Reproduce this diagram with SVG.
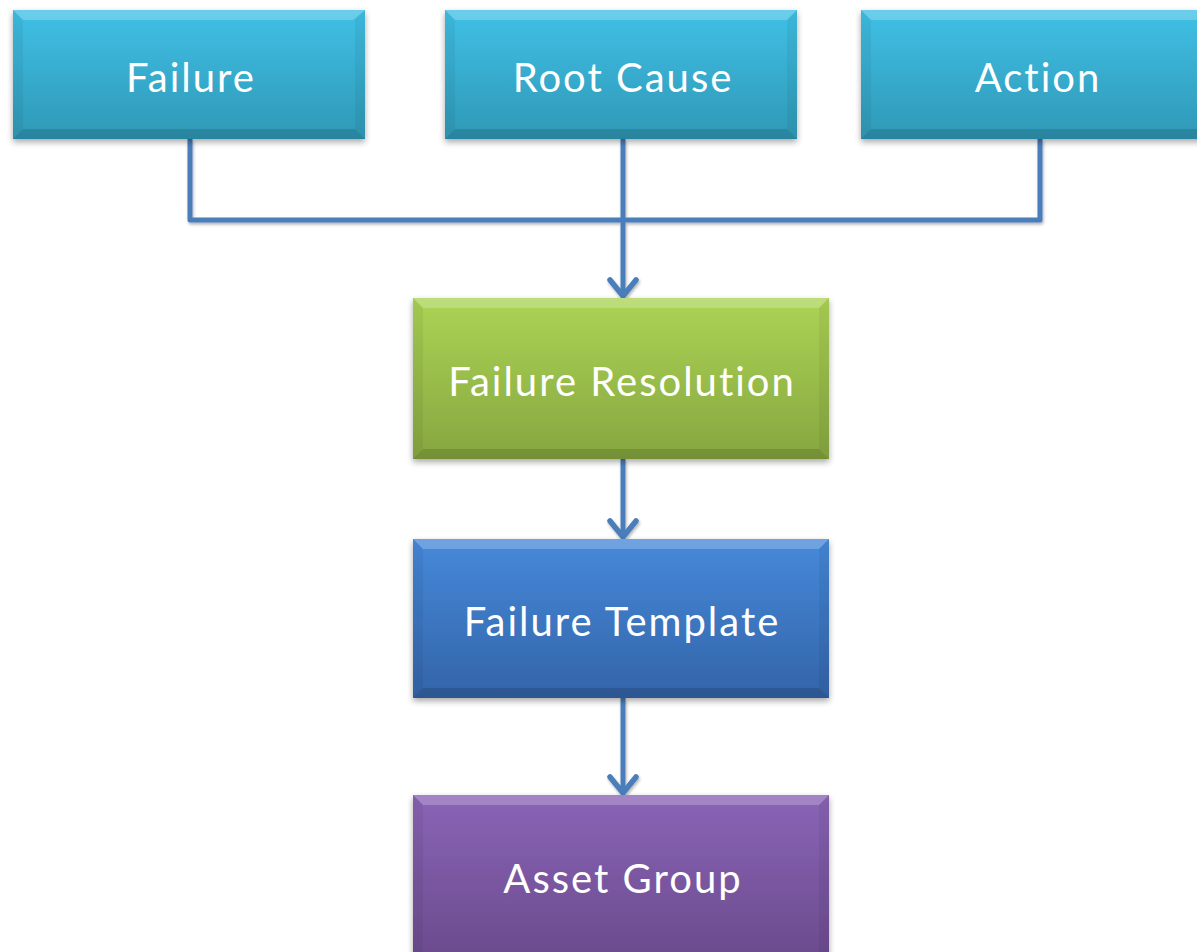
<svg xmlns="http://www.w3.org/2000/svg" width="1197" height="952" viewBox="0 0 1197 952">
<defs>
<linearGradient id="gCyan" x1="0" y1="0" x2="0" y2="1"><stop offset="0" stop-color="#40c0e6"/><stop offset="1" stop-color="#2f98b6"/></linearGradient>
<linearGradient id="gGreen" x1="0" y1="0" x2="0" y2="1"><stop offset="0" stop-color="#acd455"/><stop offset="1" stop-color="#86a640"/></linearGradient>
<linearGradient id="gBlue" x1="0" y1="0" x2="0" y2="1"><stop offset="0" stop-color="#4689da"/><stop offset="1" stop-color="#3364a8"/></linearGradient>
<linearGradient id="gPurple" x1="0" y1="0" x2="0" y2="1"><stop offset="0" stop-color="#8a64b6"/><stop offset="1" stop-color="#6a4a8c"/></linearGradient>
<filter id="sh" x="-10%" y="-10%" width="120%" height="130%"><feDropShadow dx="0" dy="3" stdDeviation="3" flood-color="#000" flood-opacity="0.35"/></filter>
<filter id="lsh" x="-5%" y="-5%" width="110%" height="130%"><feDropShadow dx="1" dy="2" stdDeviation="1.5" flood-color="#000" flood-opacity="0.3"/></filter>
</defs>
<style>
.lbl{font-family:Lato,"Open Sans","Liberation Sans",sans-serif;font-size:40px;letter-spacing:2px;fill:#fff;text-anchor:middle}
.con{fill:none;stroke:#4a7ebb;stroke-width:5;stroke-linejoin:round}
.ah{fill:none;stroke:#4a7ebb;stroke-width:5.5;stroke-linecap:round;stroke-linejoin:round}
.hi{fill:#fff;opacity:0.22}
.lo{fill:#000;opacity:0.13}
.sd{fill:#000;opacity:0.05}
</style>
<rect width="1197" height="952" fill="#fff"/>
<g id="connectors" filter="url(#lsh)">
<path class="con" d="M190,139 V220 H1040 V139"/>
<path class="con" d="M623,139 V296"/>
<path class="con" d="M623,459 V537"/>
<path class="con" d="M623,698 V793"/>
<path class="ah" d="M610,280 L623,296 L636,280"/>
<path class="ah" d="M610,521 L623,537 L636,521"/>
<path class="ah" d="M610,777 L623,793 L636,777"/>
</g>
<g id="failure">
<rect x="13" y="10" width="352" height="129" fill="url(#gCyan)" filter="url(#sh)"/>
<polygon class="hi" points="13,10 365,10 353,20 23,20"/>
<polygon class="sd" points="13,10 23,20 23,129 13,139"/>
<polygon class="sd" points="365,10 355,20 355,129 365,139"/>
<polygon class="lo" points="13,139 23,129 355,129 365,139"/>
<text class="lbl" x="191" y="92">Failure</text>
</g>
<g id="rootcause">
<rect x="445" y="10" width="352" height="129" fill="url(#gCyan)" filter="url(#sh)"/>
<polygon class="hi" points="445,10 797,10 787,20 455,20"/>
<polygon class="sd" points="445,10 455,20 455,129 445,139"/>
<polygon class="sd" points="797,10 787,20 787,129 797,139"/>
<polygon class="lo" points="445,139 455,129 787,129 797,139"/>
<text class="lbl" x="623" y="92">Root Cause</text>
</g>
<g id="action">
<rect x="861" y="10" width="352" height="129" fill="url(#gCyan)" filter="url(#sh)"/>
<polygon class="hi" points="861,10 1213,10 1203,20 871,20"/>
<polygon class="sd" points="861,10 871,20 871,129 861,139"/>
<polygon class="lo" points="861,139 871,129 1203,129 1213,139"/>
<text class="lbl" x="1038" y="92">Action</text>
</g>
<g id="resolution">
<rect x="413" y="298" width="416" height="161" fill="url(#gGreen)" filter="url(#sh)"/>
<polygon class="hi" points="413,298 829,298 819,308 423,308"/>
<polygon class="sd" points="413,298 423,308 423,449 413,459"/>
<polygon class="sd" points="829,298 819,308 819,449 829,459"/>
<polygon class="lo" points="413,459 423,449 819,449 829,459"/>
<text class="lbl" x="622" y="396">Failure Resolution</text>
</g>
<g id="template">
<rect x="413" y="539" width="416" height="159" fill="url(#gBlue)" filter="url(#sh)"/>
<polygon class="hi" points="413,539 829,539 819,549 423,549"/>
<polygon class="sd" points="413,539 423,549 423,688 413,698"/>
<polygon class="sd" points="829,539 819,549 819,688 829,698"/>
<polygon class="lo" points="413,698 423,688 819,688 829,698"/>
<text class="lbl" x="622" y="636">Failure Template</text>
</g>
<g id="assetgroup">
<rect x="413" y="795" width="416" height="170" fill="url(#gPurple)" filter="url(#sh)"/>
<polygon class="hi" points="413,795 829,795 819,805 423,805"/>
<polygon class="sd" points="413,795 423,805 423,952 413,952"/>
<polygon class="sd" points="829,795 819,805 819,952 829,952"/>
<text class="lbl" x="623" y="893">Asset Group</text>
</g>
</svg>
